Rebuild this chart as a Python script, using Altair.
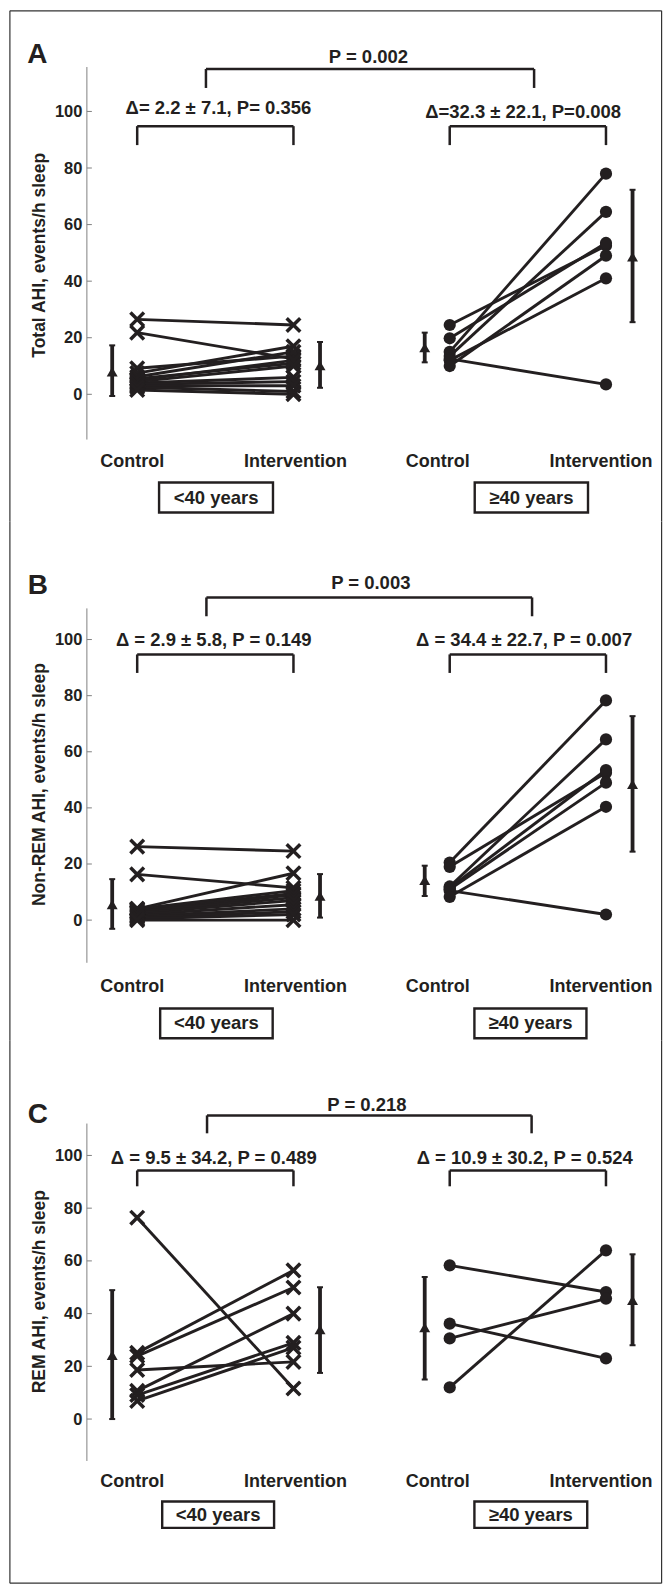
import altair as alt
import pandas as pd

INK = "#231f20"
AXIS_GREY = "#808080"
FONT = "Liberation Sans"

# ---------------- data ----------------
col_x = [1, 2, 3, 4]                       # <40 Ctrl, <40 Int, >=40 Ctrl, >=40 Int
col_labels = ["Control", "Intervention", "Control", "Intervention"]
group_labels = ["<40 years", "≥40 years"]
y_ticks = [0, 20, 40, 60, 80, 100]

# Panel A - Total AHI
A_young_ctrl = [26.5, 21.8, 9.2, 7.5, 6.2, 5.5, 5.0, 4.5, 4.0, 3.5, 3.0, 2.5, 1.5]
A_young_int = [24.5, 12.5, 13.5, 17.0, 15.0, 11.0, 12.0, 10.0, 6.0, 4.5, 3.0, 1.0, 0.0]
A_old_ctrl = [24.5, 19.8, 15.0, 13.5, 12.5, 12.0, 10.0]
A_old_int = [52.5, 53.5, 78.0, 64.5, 3.5, 41.0, 49.0]
A_mean = [8.0, 10.2, 16.5, 48.6]
A_lo = [-0.6, 2.3, 11.3, 25.5]
A_hi = [17.3, 18.5, 21.8, 72.3]

# Panel B - Non-REM AHI
B_young_ctrl = [26.2, 16.3, 4.0, 4.0, 3.5, 3.0, 3.0, 2.5, 2.0, 1.5, 1.0, 0.5, 0.0]
B_young_int = [24.6, 11.5, 16.7, 10.5, 9.5, 9.0, 8.0, 7.0, 5.5, 4.0, 3.0, 2.0, 0.0]
B_old_ctrl = [20.5, 19.0, 12.0, 11.5, 11.0, 10.5, 8.3]
B_old_int = [78.3, 52.5, 64.4, 53.5, 49.0, 2.0, 40.4]
B_mean = [5.6, 8.6, 14.2, 48.4]
B_lo = [-3.1, 0.9, 8.6, 24.4]
B_hi = [14.6, 16.4, 19.4, 72.7]

# Panel C - REM AHI
C_young_ctrl = [76.4, 25.1, 23.9, 18.6, 10.7, 9.1, 6.9]
C_young_int = [11.6, 56.4, 49.9, 21.7, 40.0, 28.9, 27.1]
C_old_ctrl = [58.3, 36.2, 30.6, 12.0]
C_old_int = [48.2, 23.0, 45.7, 64.0]
C_mean = [24.2, 34.0, 34.7, 45.1]
C_lo = [0.0, 17.5, 15.0, 28.0]
C_hi = [48.9, 50.0, 53.9, 62.5]

A_texts = ["Total AHI, events/h sleep", "P = 0.002",
           "Δ= 2.2 ± 7.1, P= 0.356", "Δ=32.3 ± 22.1, P=0.008"]
B_texts = ["Non-REM AHI, events/h sleep", "P = 0.003",
           "Δ = 2.9 ± 5.8, P = 0.149", "Δ = 34.4 ± 22.7, P = 0.007"]
C_texts = ["REM AHI, events/h sleep", "P = 0.218",
           "Δ = 9.5 ± 34.2, P = 0.489", "Δ = 10.9 ± 30.2, P = 0.524"]

# ---------------- layout ----------------
X0, W = 0.678, 575
X1 = X0 + W / 156.5
MEAN_SHIFT = [-0.16, 0.17, -0.16, 0.17]
LABEL_DX = [-5, 2, -12, -5]
FRAME_L, FRAME_R = -77.1, 575.6
CROSS = "M-1,-1L1,1M-1,1L1,-1"

panels = [
    dict(data=(A_young_ctrl, A_young_int, A_old_ctrl, A_old_int, A_mean, A_lo, A_hi),
         texts=A_texts, letter="A", height=512, ydom=[-44.94, 135.79], axis_rng=[-16, 115.7],
         title_y=245, letter_pos=(0.361, 119.9), top_br=(1.44, 3.54, 115.0, 108.3),
         p_pos=(2.48, 119.3), in_br=(94.8, 88.1), d_pos=[(1.52, 101.2), (3.47, 99.8)],
         lab_v=-23.8, box_v=(-31.2, -41.8), box_x=[(1.14, 1.869), (3.16, 3.885)], frame="top"),
    dict(data=(B_young_ctrl, B_young_int, B_old_ctrl, B_old_int, B_mean, B_lo, B_hi),
         texts=B_texts, letter="B", height=520, ydom=[-42.95, 142.1], axis_rng=[-15.2, 111.1],
         title_y=263, letter_pos=(0.364, 119.0), top_br=(1.443, 3.527, 115.0, 108.3),
         p_pos=(2.495, 120.2), in_br=(94.7, 88.1), d_pos=[(1.49, 99.7), (3.476, 99.7)],
         lab_v=-24.0, box_v=(-31.5, -42.1), box_x=[(1.147, 1.867), (3.158, 3.875)], frame=None),
    dict(data=(C_young_ctrl, C_young_int, C_old_ctrl, C_old_int, C_mean, C_lo, C_hi),
         texts=C_texts, letter="C", height=544, ydom=[-62.5, 143.56], axis_rng=[-15.9, 112.1],
         title_y=251, letter_pos=(0.364, 115.5), top_br=(1.447, 3.524, 115.2, 108.4),
         p_pos=(2.47, 119.3), in_br=(94.3, 88.3), d_pos=[(1.49, 98.9), (3.48, 98.9)],
         lab_v=-23.75, box_v=(-31.3, -41.3), box_x=[(1.16, 1.876), (3.158, 3.88)], frame="bottom"),
]


def pairs(ctrl, intv, xc, xi, tag):
    rows = []
    for i, (c, t) in enumerate(zip(ctrl, intv)):
        rows.append({"subj": f"{tag}{i}", "x": xc, "v": c})
        rows.append({"subj": f"{tag}{i}", "x": xi, "v": t})
    return pd.DataFrame(rows)


def build(P):
    yc, yi, oc, oi, mean, lo, hi = P["data"]
    H = P["height"]
    xs = alt.X("x:Q", scale=alt.Scale(domain=[X0, X1], nice=False, zero=False), axis=None)
    ys = alt.Y("v:Q", scale=alt.Scale(domain=P["ydom"], nice=False, zero=False),
               axis=alt.Axis(values=y_ticks, domain=False, ticks=False, tickSize=0, grid=False,
                             labelFont=FONT, labelFontWeight="bold", labelFontSize=16.5,
                             labelColor=INK, labelPadding=5,
                             title=P["texts"][0], titleFont=FONT, titleFontWeight="bold",
                             titleFontSize=17.5, titleColor=INK, titleX=-42.6,
                             titleY=P["title_y"], titleBaseline="alphabetic"))
    one = pd.DataFrame({"d": [0]})
    layers = []

    # y axis line and inward ticks
    layers.append(alt.Chart(pd.DataFrame({"v": [P["axis_rng"][0]], "v2": [P["axis_rng"][1]]}))
                  .mark_rule(color=AXIS_GREY, strokeWidth=1)
                  .encode(x=alt.value(0), y=ys, y2=alt.Y2("v2:Q")))
    layers.append(alt.Chart(pd.DataFrame({"v": y_ticks}))
                  .mark_rule(color=AXIS_GREY, strokeWidth=1)
                  .encode(x=alt.value(0), x2=alt.value(5), y=ys))

    young = pairs(yc, yi, col_x[0], col_x[1], "y")
    old = pairs(oc, oi, col_x[2], col_x[3], "o")
    for df in (young, old):
        layers.append(alt.Chart(df).mark_line(color=INK, strokeWidth=2.9)
                      .encode(x=xs, y=ys, detail="subj:N"))
    layers.append(alt.Chart(young).mark_point(shape=CROSS, filled=False, size=185,
                                               strokeWidth=3.5, color=INK, opacity=1)
                  .encode(x=xs, y=ys))
    layers.append(alt.Chart(old).mark_circle(size=150, color=INK, opacity=1)
                  .encode(x=xs, y=ys))

    # mean +/- SD
    xm = [c + s for c, s in zip(col_x, MEAN_SHIFT)]
    bars = pd.DataFrame({"x": xm, "v": lo, "v2": hi})
    layers.append(alt.Chart(bars).mark_rule(color=INK, strokeWidth=3.8)
                  .encode(x=xs, y=ys, y2=alt.Y2("v2:Q")))
    caps = pd.DataFrame({"x": xm + xm, "v": lo + hi})
    layers.append(alt.Chart(caps).mark_tick(color=INK, orient="horizontal", size=6,
                                             thickness=2, opacity=1)
                  .encode(x=xs, y=ys))
    mdf = pd.DataFrame({"x": xm, "v": mean})
    layers.append(alt.Chart(mdf).mark_point(shape="triangle-up", filled=True, size=120,
                                             color=INK, opacity=1)
                  .encode(x=xs, y=ys))

    # brackets
    bx0, bx1, bt, bl = P["top_br"]
    wt, wl = P["in_br"]
    segs = [(bx0, bx1, bt, bt), (bx0, bx0, bt, bl), (bx1, bx1, bt, bl)]
    for a, b in [(col_x[0], col_x[1]), (col_x[2], col_x[3])]:
        segs += [(a, b, wt, wt), (a, a, wt, wl), (b, b, wt, wl)]
    sdf = pd.DataFrame(segs, columns=["x", "x2", "v", "v2"])
    layers.append(alt.Chart(sdf).mark_rule(color=INK, strokeWidth=2.5)
                  .encode(x=xs, x2=alt.X2("x2:Q"), y=ys, y2=alt.Y2("v2:Q")))

    tdf = pd.DataFrame({"x": [P["p_pos"][0], P["d_pos"][0][0], P["d_pos"][1][0]],
                        "v": [P["p_pos"][1], P["d_pos"][0][1], P["d_pos"][1][1]],
                        "t": P["texts"][1:]})
    layers.append(alt.Chart(tdf).mark_text(font=FONT, fontWeight="bold", fontSize=18.5,
                                            color=INK, align="center", baseline="middle")
                  .encode(x=xs, y=ys, text="t:N"))

    # column labels
    for cx, lab, dx in zip(col_x, col_labels, LABEL_DX):
        layers.append(alt.Chart(pd.DataFrame({"x": [cx], "v": [P["lab_v"]], "t": [lab]}))
                      .mark_text(font=FONT, fontWeight="bold", fontSize=18, color=INK,
                                 align="center", baseline="middle", dx=dx)
                      .encode(x=xs, y=ys, text="t:N"))

    # group boxes
    bdf = pd.DataFrame({"x": [b[0] for b in P["box_x"]], "x2": [b[1] for b in P["box_x"]],
                        "v": [P["box_v"][0]] * 2, "v2": [P["box_v"][1]] * 2,
                        "t": group_labels})
    layers.append(alt.Chart(bdf).mark_rect(fill="white", stroke=INK, strokeWidth=2.4)
                  .encode(x=xs, x2=alt.X2("x2:Q"), y=ys, y2=alt.Y2("v2:Q")))
    bt_df = pd.DataFrame({"x": (bdf["x"] + bdf["x2"]) / 2, "v": (bdf["v"] + bdf["v2"]) / 2,
                          "t": group_labels})
    layers.append(alt.Chart(bt_df).mark_text(font=FONT, fontWeight="bold", fontSize=18.5,
                                              color=INK, align="center", baseline="middle")
                  .encode(x=xs, y=ys, text="t:N"))

    # panel letter
    layers.append(alt.Chart(pd.DataFrame({"x": [P["letter_pos"][0]], "v": [P["letter_pos"][1]],
                                          "t": [P["letter"]]}))
                  .mark_text(font=FONT, fontWeight="bold", fontSize=28, color=INK,
                             align="center", baseline="middle")
                  .encode(x=xs, y=ys, text="t:N"))

    # outer frame pieces
    fr = dict(color="#333333", strokeWidth=1.2)
    y_top = 0.6 if P["frame"] == "top" else 0
    y_bot = H - 0.6 if P["frame"] == "bottom" else H
    layers.append(alt.Chart(one).mark_rule(**fr)
                  .encode(x=alt.value(FRAME_L), y=alt.value(y_top), y2=alt.value(y_bot)))
    layers.append(alt.Chart(one).mark_rule(**fr)
                  .encode(x=alt.value(FRAME_R), y=alt.value(y_top), y2=alt.value(y_bot)))
    if P["frame"] is not None:
        yy = y_top if P["frame"] == "top" else y_bot
        layers.append(alt.Chart(one).mark_rule(**fr)
                      .encode(x=alt.value(FRAME_L), x2=alt.value(FRAME_R), y=alt.value(yy)))

    return alt.layer(*layers).properties(width=W, height=H)


chart = alt.vconcat(*[build(P) for P in panels], spacing=0, bounds="flush").properties(
    padding=0
).configure_view(stroke="transparent")

chart.save("out.html", embed_options={"renderer": "svg", "actions": False})
